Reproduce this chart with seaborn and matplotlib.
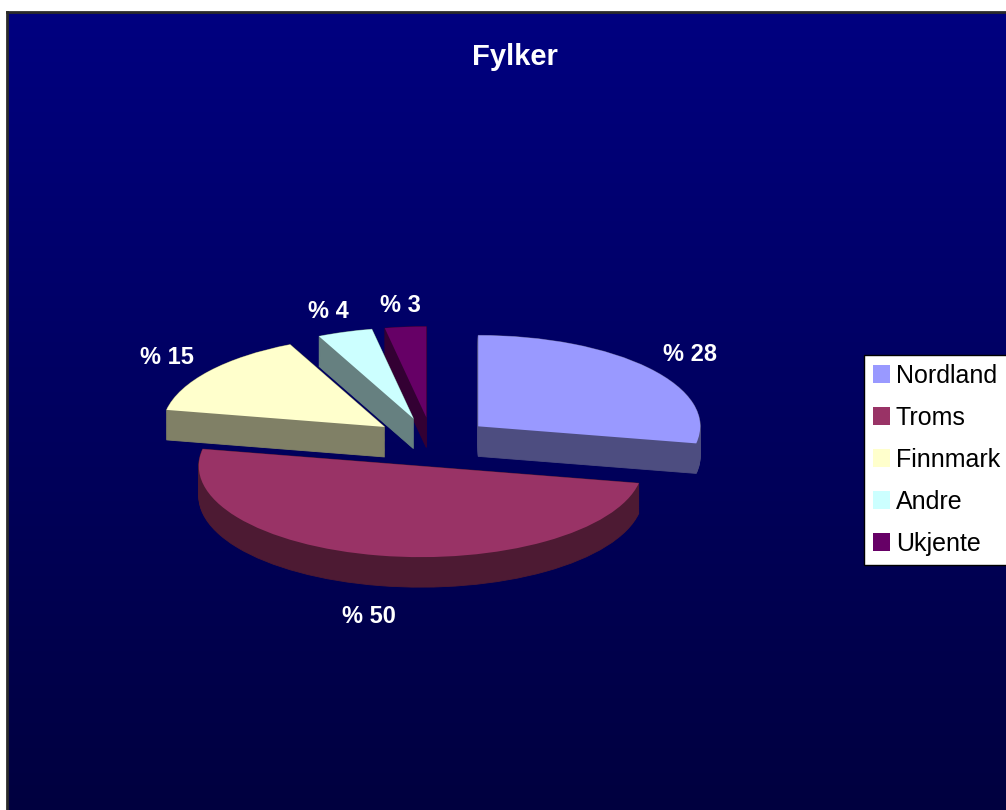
import numpy as np
import matplotlib
matplotlib.use("Agg")
import matplotlib.pyplot as plt
import matplotlib.colors as mcolors
import seaborn as sns

# data
fylker = ["Nordland", "Troms", "Finnmark", "Andre", "Ukjente"]
prosent = [28, 50, 15, 4, 3]
etiketter = [f"% {p}" for p in prosent]
farger = ["#9999FF", "#993366", "#FFFFCC", "#CCFFFF", "#660066"]

sns.set_theme(style="white")
plt.rcParams["font.family"] = ["Liberation Sans", "DejaVu Sans"]

W, H = 1006, 810
fig = plt.figure(figsize=(W / 100, H / 100), dpi=100, facecolor="white")

# bakgrunn med gradient (mørkeblå)
bg = fig.add_axes([7 / W, 0, 1 - 7 / W, 1 - 12 / H])
grad = np.linspace(0, 1, 256).reshape(-1, 1)
cmap_bg = mcolors.LinearSegmentedColormap.from_list("bg", ["#000080", "#00003F"])
bg.imshow(grad, aspect="auto", cmap=cmap_bg, extent=(0, 1, 0, 1), origin="upper")
bg.set_xticks([])
bg.set_yticks([])
for s in ["right", "bottom"]:
    bg.spines[s].set_visible(False)
for s in ["top", "left"]:
    bg.spines[s].set_color("#2a2a2a")
    bg.spines[s].set_linewidth(2)

# kakediagram med "3D"-effekt: stablede lag under toppflaten
ax = fig.add_axes([0, 0, 1, 1])
ax.patch.set_visible(False)

eksplodert = [0.27] * len(prosent)
dybde = 0.33
lag = np.linspace(dybde, 0, 34)
rekkefolge = {"Ukjente": 0, "Andre": 1, "Finnmark": 2, "Nordland": 3, "Troms": 4}
sidefarger = [tuple(c * 0.5 for c in mcolors.to_rgb(f)) for f in farger]

for k, d in enumerate(lag):
    kiler, _ = ax.pie(prosent, colors=sidefarger, startangle=90, counterclock=False,
                      explode=eksplodert, center=(0, -d))
    for navn, w in zip(fylker, kiler):
        w.set_edgecolor(w.get_facecolor())
        w.set_linewidth(0.6)
        w.set_zorder(2 + rekkefolge[navn] + k * 0.001)

kiler, tekster = ax.pie(prosent, colors=farger, labels=etiketter, labeldistance=1.24,
                        startangle=90, counterclock=False, explode=eksplodert,
                        wedgeprops=dict(linewidth=0),
                        textprops=dict(color="white", fontsize=17, fontweight="bold"))
for navn, w in zip(fylker, kiler):
    w.set_zorder(2 + rekkefolge[navn] + 0.5)
for t in tekster:
    t.set_ha("center")
    t.set_va("center")
    t.set_zorder(10)
    x, y = t.get_position()
    if y < 0:
        t.set_y(y - dybde * 1.3)

ax.set_aspect("auto")
ax.set_xlim(-432 / 222, 574 / 222)
ax.set_ylim(-368 / 91, 442 / 91)
ax.axis("off")

fig.text(515 / W, 1 - 57 / H, "Fylker", ha="center", va="center",
         color="white", fontsize=21, fontweight="bold")

leg = ax.legend(kiler, fylker, loc="upper left", bbox_to_anchor=(864 / W, 1 - 355 / H),
                bbox_transform=fig.transFigure, fontsize=18, frameon=True, fancybox=False,
                edgecolor="black", facecolor="white", framealpha=1, borderaxespad=0,
                borderpad=0.35, handlelength=0.68, handleheight=0.68, handletextpad=0.25,
                labelspacing=0.72, labelcolor="black")
leg.get_frame().set_linewidth(1)
leg.set_zorder(20)

fig.savefig("out.png", dpi=100, facecolor="white")
